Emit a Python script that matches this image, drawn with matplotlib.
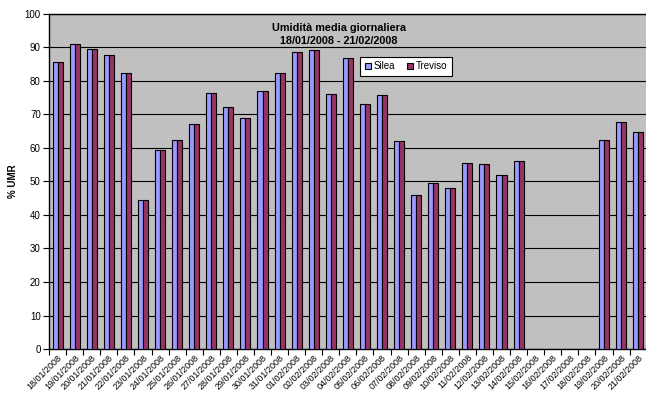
import numpy as np
import matplotlib
matplotlib.use("Agg")
import matplotlib.pyplot as plt
import matplotlib.transforms as mtransforms
from matplotlib.patches import Patch

plt.rcParams['font.family'] = ['Liberation Sans', 'DejaVu Sans']

dates = ["18/01/2008", "19/01/2008", "20/01/2008", "21/01/2008", "22/01/2008",
         "23/01/2008", "24/01/2008", "25/01/2008", "26/01/2008", "27/01/2008",
         "28/01/2008", "29/01/2008", "30/01/2008", "31/01/2008", "01/02/2008",
         "02/02/2008", "03/02/2008", "04/02/2008", "05/02/2008", "06/02/2008",
         "07/02/2008", "08/02/2008", "09/02/2008", "10/02/2008", "11/02/2008",
         "12/02/2008", "13/02/2008", "14/02/2008", "15/02/2008", "16/02/2008",
         "17/02/2008", "18/02/2008", "19/02/2008", "20/02/2008", "21/02/2008"]

nan = np.nan
silea = [85.6, 90.9, 89.5, 87.8, 82.5, 44.6, 59.3, 62.3, 67.1, 76.3,
         72.1, 69.0, 76.9, 82.5, 88.7, 89.3, 76.0, 87.0, 73.0, 75.8,
         62.0, 45.9, 49.6, 48.0, 55.4, 55.1, 51.9, 56.1, nan, nan,
         nan, nan, 62.4, 67.8, 64.9]
treviso = [85.6, 90.9, 89.5, 87.8, 82.5, 44.6, 59.3, 62.3, 67.1, 76.3,
           72.1, 69.0, 76.9, 82.5, 88.7, 89.3, 76.0, 87.0, 73.0, 75.8,
           62.0, 45.9, 49.6, 48.0, 55.4, 55.1, 51.9, 56.1, nan, nan,
           nan, nan, 62.4, 67.8, 64.9]

series_names = ["Silea", "Treviso"]
colors = ["#9999FF", "#993366"]

fig = plt.figure(figsize=(6.46, 3.94), dpi=100)
ax = fig.add_axes([0.076, 0.1142, 0.925, 0.8503])
ax.set_facecolor("#C0C0C0")

x = np.arange(len(dates))
w = 0.295
for vals, off, c in zip([silea, treviso], [-w / 2, w / 2], colors):
    ax.bar(x + off, vals, width=w, color=c, edgecolor="black", linewidth=0.8, zorder=3)

ax.set_xlim(-0.5, len(dates) - 0.5)
ax.set_ylim(0, 100)
ax.set_yticks(np.arange(0, 101, 10))
ax.yaxis.grid(True, color="black", linewidth=0.8, zorder=1)
ax.set_axisbelow(True)

ax.set_xticks(np.arange(-0.5, len(dates), 1.0))
ax.set_xticklabels([])
ax.set_xticks(x, minor=True)
ax.set_xticklabels(dates, minor=True, rotation=45, ha="right",
                   rotation_mode="anchor", fontsize=6.5)
shift = mtransforms.ScaledTranslation(-4 / 100, 0, fig.dpi_scale_trans)
for lbl in ax.get_xticklabels(minor=True):
    lbl.set_transform(lbl.get_transform() + shift)
ax.tick_params(axis="x", which="minor", length=0, pad=3)
ax.tick_params(axis="x", which="major", length=4, width=0.8, direction="out")
ax.tick_params(axis="y", length=4, width=0.8, direction="out", labelsize=7, pad=2)

for s in ["left", "bottom", "top"]:
    ax.spines[s].set_color("black")
    ax.spines[s].set_linewidth(1.0)
ax.spines["right"].set_visible(False)

ax.set_ylabel("% UMR", fontsize=7, fontweight="bold")
ax.yaxis.set_label_coords(-0.052, 0.5)

ax.text(0.485, 0.972, "Umidità media giornaliera\n18/01/2008 - 21/02/2008",
        transform=ax.transAxes, ha="center", va="top", fontsize=7.8,
        fontweight="bold", linespacing=1.3, zorder=5)

handles = [Patch(facecolor=c, edgecolor="black", linewidth=0.8) for c in colors]
leg = ax.legend(handles, series_names, loc="upper left",
                bbox_to_anchor=(0.52, 0.873), ncol=2, fontsize=7,
                frameon=True, fancybox=False, framealpha=1.0,
                handlelength=0.7, handleheight=0.7, handletextpad=0.2,
                columnspacing=1.2, borderpad=0.5, borderaxespad=0)
leg.get_frame().set_edgecolor("black")
leg.get_frame().set_linewidth(0.8)
leg.set_zorder(6)

fig.savefig("out.png", dpi=100)
